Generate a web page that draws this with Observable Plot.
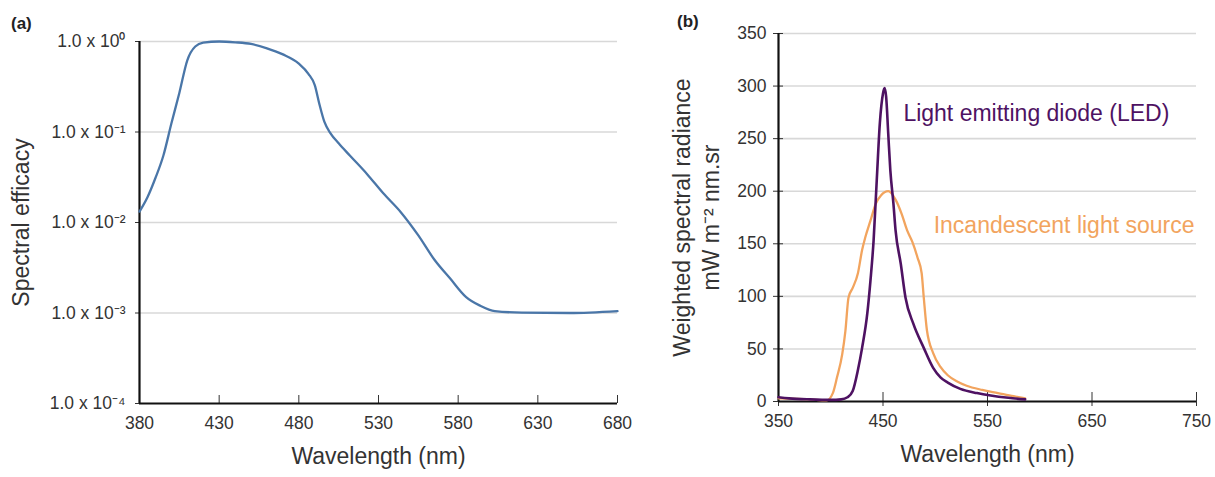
<!DOCTYPE html>
<html><head><meta charset="utf-8">
<script src="https://cdn.jsdelivr.net/npm/d3@7"></script>
<script src="https://cdn.jsdelivr.net/npm/@observablehq/plot@0.6"></script>
<style>
body{margin:0;background:#fff;font-family:"Liberation Sans",Arial,sans-serif;}
#wrap{position:relative;width:1215px;height:477px;overflow:hidden;background:#fff}
.panel{position:absolute;top:0}
.tag{position:absolute;font-weight:bold;font-size:17px;color:#222;font-family:"Liberation Sans",Arial,sans-serif}
g[aria-label="x-axis label"] text, g[aria-label="y-axis label"] text{font-size:23px;fill:#333}
</style></head><body>
<div id="wrap">
  <div class="tag" style="left:11px;top:14px">(a)</div>
  <div class="tag" style="left:677px;top:12px">(b)</div>
  <div id="a" class="panel" style="left:0"></div>
  <div id="b" class="panel" style="left:640px"></div>
</div>
<script>
// Panel (a): spectral efficacy
const efficacyWavelength = [380,385,390,395,400,405,410,415,420,430,440,450,460,470,480,486,490,493,496,500,505,512,523,533,544,555,565,575,585,594,603,620,650,680];
const efficacyValue = [0.0132,0.019,0.031,0.055,0.124,0.27,0.62,0.88,0.97,1.0,0.98,0.94,0.84,0.72,0.57,0.44,0.33,0.2,0.13,0.096,0.075,0.055,0.034,0.021,0.013,0.0072,0.0039,0.0024,0.0015,0.0012,0.00105,0.00101,0.001,0.00105];
const efficacyTicks = [1e-4,1e-3,1e-2,1e-1,1];
const efficacyTickLabels = ["1.0 x 10⁻⁴","1.0 x 10⁻³","1.0 x 10⁻²","1.0 x 10⁻¹","1.0 x 10⁰"];
const wavelengthTicksA = [380,430,480,530,580,630,680];

// Panel (b): weighted spectral radiance
const ledWavelength = [350,360,380,400,410,416,421,426,430,435,438,441,444,447,450,451.5,453,455,457,460,462,467,471.5,479,489,498,505,512,524,540,553,570,586];
const ledValue = [4,3,2,1.5,2,4,10,30,51,84,115,153,210,265,293,298,290,255,220,188,163,131,99,74,51,32,23,18,12,8,5.7,3.5,2];
const incWavelength = [350,380,396,402,406,411,414,417,421,426,430,433,438,443,448,455,462,468,473,478,483,487,489,492,498,505,512,521,530,545,560,575,586];
const incValue = [3,2,1,8,23,45,67,99,108,122,144,156,172,188,196,200,192,178,163,152,137,122,99,68,46,33,25,19,15,11,8,5,3];
const radianceTicks = [0,50,100,150,200,250,300,350];
const wavelengthTicksB = [350,450,550,650,750];
const radianceTitle = "Weighted spectral radiance\nmW m⁻² nm.sr";
const seriesNames = ["Light emitting diode (LED)","Incandescent light source"];
const seriesColors = ["#4e1262","#f2a45e"];
const labelWavelength = [469.5,498.5];
const labelValue = [274,167];

const font = "Liberation Sans, Arial, sans-serif";
const gridStyle = {stroke:"#d8d8d8", strokeOpacity:1, strokeWidth:1.6};

const dataA = efficacyWavelength.map((w,i)=>({w, v: efficacyValue[i]}));
const A = Plot.plot({
  width: 640, height: 477,
  marginLeft: 139, marginRight: 23, marginTop: 41, marginBottom: 74,
  style: {fontFamily: font, fontSize: "17.5px", color: "#333", background: "transparent", overflow: "visible"},
  x: {domain: [380,680]},
  y: {type: "log", domain: [1e-4, 1]},
  marks: [
    Plot.gridY(efficacyTicks.slice(1), gridStyle),
    Plot.axisY(efficacyTicks, {tickSize: 4, tickPadding: 10, tickFormat: d => efficacyTickLabels[efficacyTicks.indexOf(d)], label: "Spectral efficacy", labelAnchor: "center", labelOffset: 127, labelArrow: "none"}),
    Plot.axisX(wavelengthTicksA, {tickSize: 8, dy: -8, tickFormat: () => "", label: null}),
    Plot.axisX(wavelengthTicksA, {tickSize: 0, tickPadding: 13, label: "Wavelength (nm)", labelAnchor: "center", labelOffset: 60, labelArrow: "none"}),
    Plot.ruleX([380], {stroke: "#111", strokeWidth: 2.2}),
    Plot.ruleY([1e-4], {stroke: "#111", strokeWidth: 2.2}),
    Plot.line(dataA, {x: "w", y: "v", stroke: "#4a76a8", strokeWidth: 2.3, curve: "monotone-x"})
  ]
});
document.getElementById("a").append(A);

const led = ledWavelength.map((w,i)=>({w, v: ledValue[i]}));
const inc = incWavelength.map((w,i)=>({w, v: incValue[i]}));
const labels = seriesNames.map((t,i)=>({t, w: labelWavelength[i], v: labelValue[i], c: seriesColors[i]}));
const B = Plot.plot({
  width: 575, height: 477,
  marginLeft: 138, marginRight: 19, marginTop: 33, marginBottom: 76,
  style: {fontFamily: font, fontSize: "17.5px", color: "#333", background: "transparent", overflow: "visible"},
  x: {domain: [350,750]},
  y: {domain: [0,350]},
  marks: [
    Plot.gridY(radianceTicks.slice(1), gridStyle),
    Plot.axisY(radianceTicks, {tickSize: 10, dx: 5, tickFormat: () => "", label: null}),
    Plot.axisY(radianceTicks, {tickSize: 0, tickPadding: 12, label: null}),
    Plot.text([radianceTitle], {frameAnchor: "left", rotate: -90, textAnchor: "middle", lineAnchor: "middle", lineHeight: 1.27, dx: -83, fontSize: 23, fill: "#333"}),
    Plot.axisX(wavelengthTicksB, {tickSize: 14, dy: -9, tickFormat: () => "", label: null}),
    Plot.axisX(wavelengthTicksB, {tickSize: 0, tickPadding: 13, label: "Wavelength (nm)", labelAnchor: "center", labelOffset: 60, labelArrow: "none"}),
    Plot.ruleX([350], {stroke: "#111", strokeWidth: 2.2}),
    Plot.ruleY([0], {stroke: "#111", strokeWidth: 2.2}),
    Plot.line(inc, {x: "w", y: "v", stroke: seriesColors[1], strokeWidth: 2.3, curve: "monotone-x"}),
    Plot.line(led, {x: "w", y: "v", stroke: seriesColors[0], strokeWidth: 2.6, curve: "monotone-x"}),
    Plot.text(labels, {x: "w", y: "v", text: "t", fill: "c", textAnchor: "start", fontSize: 23})
  ]
});
document.getElementById("b").append(B);
</script>
</body></html>
